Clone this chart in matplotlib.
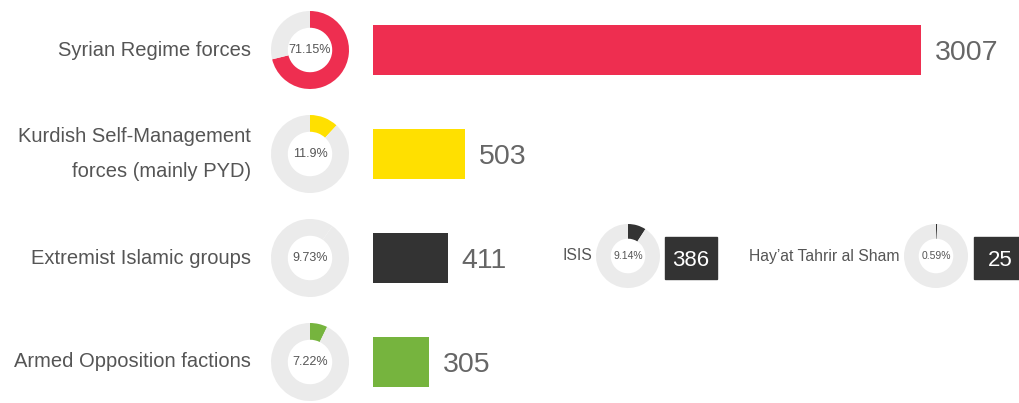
import matplotlib.pyplot as plt
from matplotlib.patches import Rectangle

plt.rcParams['font.family'] = ['Liberation Sans', 'DejaVu Sans']

# data
categories = ["Syrian Regime forces",
              "Kurdish Self-Management\nforces (mainly PYD)",
              "Extremist Islamic groups",
              "Armed Opposition factions"]
totals = [3007, 503, 411, 305]
shares = [71.15, 11.9, 9.73, 7.22]

sub_groups = ["ISIS", "Hay\u2019at Tahrir al Sham"]
sub_totals = [386, 25]
sub_shares = [9.14, 0.59]

bar_colors = ['#EE2E50', '#FFE000', '#333333', '#76B43E']
donut_colors = ['#EE2E50', '#FFE000', '#EBEBEB', '#76B43E']
ring = '#EBEBEB'
label_col = '#555555'
value_col = '#666666'

W, H = 1019, 403


def fig_box(x0, y0, w, h):
    # pixel box (top-left origin) -> figure fraction
    return [x0 / W, 1 - (y0 + h) / H, w / W, h / H]


def donut(cx, cy, r, share, color, width, fs):
    a = fig.add_axes(fig_box(cx - r, cy - r, 2 * r, 2 * r))
    a.pie([share, 100 - share], colors=[color, ring], startangle=90,
          counterclock=False, radius=1,
          wedgeprops=dict(width=width, edgecolor='none'))
    a.set_xlim(-1, 1)
    a.set_ylim(-1, 1)
    a.text(0, 0, f"{share}%", ha='center', va='center', fontsize=fs,
           color=label_col)
    return a


fig = plt.figure(figsize=(W / 100, H / 100), dpi=100)

# bars
top, band = -2, 104
ax = fig.add_axes(fig_box(373, top, 548, band * 4))
ax.barh(range(len(totals)), totals, height=0.49, color=bar_colors)
ax.set_xlim(0, 3007)
ax.set_ylim(3.5, -0.5)
ax.set_xticks([])
ax.set_yticks(range(len(categories)), categories)
ax.tick_params(axis='y', length=0, pad=88, labelsize=14.5,
               labelcolor=label_col)
for lab in ax.get_yticklabels():
    lab.set_linespacing(2.05)
    lab.set_verticalalignment('center')
for s in ax.spines.values():
    s.set_visible(False)
ax.patch.set_visible(False)

for i, v in enumerate(totals):
    ax.annotate(str(v), (v, i), xytext=(10, 0), textcoords='offset points',
                va='center_baseline', ha='left', fontsize=20.5,
                color=value_col)

# share donuts
for i, sh in enumerate(shares):
    cy = top + band * (i + 0.5)
    donut(310, cy, 39, sh, donut_colors[i], 0.43, 9)

# extremist breakdown
ov = fig.add_axes([0, 0, 1, 1], zorder=-1)
ov.set_xlim(0, W)
ov.set_ylim(H, 0)
ov.axis('off')

row_y = top + band * 2.5
for name, tot, sh, cx, bx in zip(sub_groups, sub_totals, sub_shares,
                                 [628, 936], [665, 974]):
    donut(cx, row_y - 2, 32, sh, '#333333', 0.46, 7.5)
    ov.text(cx - 36, row_y - 2, name, ha='right', va='center',
            fontsize=11.3, color=label_col)
    ov.add_patch(Rectangle((bx, row_y - 21), 52, 42, color='#333333'))
    ov.text(bx + 26, row_y, str(tot), ha='center', va='center_baseline',
            fontsize=16, color='white')

fig.savefig('out.png', dpi=100, facecolor='white')
